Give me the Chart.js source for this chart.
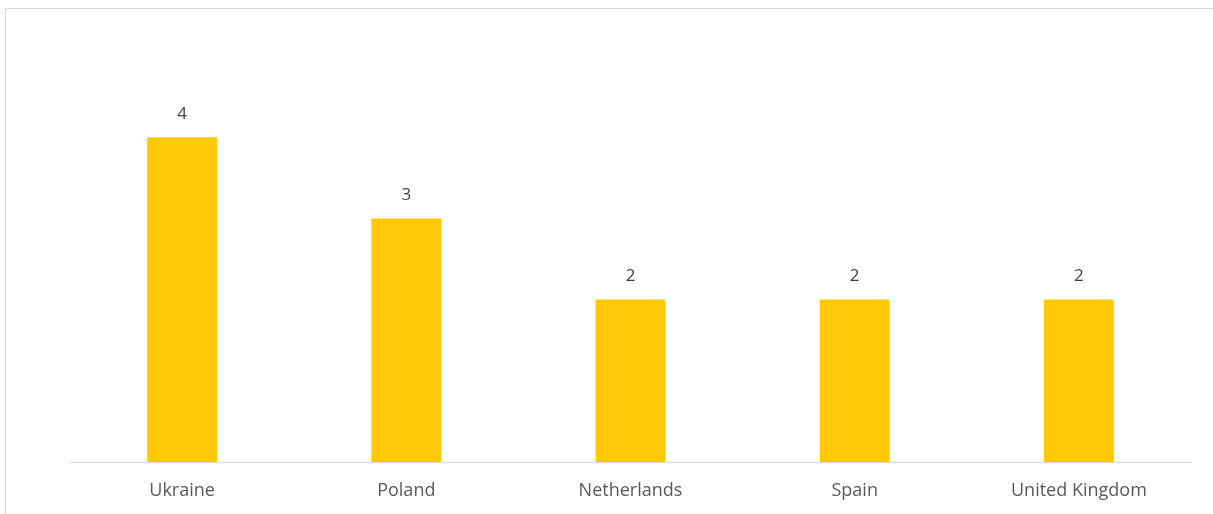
<!DOCTYPE html>
<html>
<head>
<meta charset="utf-8">
<script src="https://cdn.jsdelivr.net/npm/chart.js@4.4.1/dist/chart.umd.min.js"></script>
<style>
html,body{margin:0;padding:0;background:#fff;overflow:hidden;}
#frame{position:absolute;left:5px;top:8px;width:1230px;height:530px;border:1px solid #d9d9d9;box-sizing:border-box;}
#wrap{position:absolute;left:0;top:0;width:1213px;height:514px;}
</style>
</head>
<body>
<div id="frame"></div>
<div id="wrap"><canvas id="c" width="1213" height="514"></canvas></div>
<script>
const categories = ["Ukraine", "Poland", "Netherlands", "Spain", "United Kingdom"];
const values = [4, 3, 2, 2, 2];

const FONT = "'Open Sans', 'Liberation Sans', sans-serif";

const labelPlugin = {
  id: 'valueLabels',
  afterDatasetsDraw(chart) {
    const ctx = chart.ctx;
    const meta = chart.getDatasetMeta(0);
    ctx.save();
    ctx.font = "17px " + FONT;
    ctx.fillStyle = "#404040";
    ctx.textAlign = "center";
    ctx.textBaseline = "middle";
    meta.data.forEach((bar, i) => {
      ctx.fillText(String(values[i]), bar.x, bar.y - 23);
    });
    ctx.restore();
  }
};

new Chart(document.getElementById('c'), {
  type: 'bar',
  data: {
    labels: categories,
    datasets: [{
      data: values,
      backgroundColor: '#FFC907',
      categoryPercentage: 1,
      barPercentage: 0.312
    }]
  },
  options: {
    responsive: false,
    animation: false,
    devicePixelRatio: 1,
    layout: { padding: { left: 70, right: 22, top: 56, bottom: 0 } },
    plugins: { legend: { display: false }, tooltip: { enabled: false } },
    scales: {
      y: { display: false, min: 0, max: 5 },
      x: {
        grid: { display: false, drawTicks: false },
        border: { display: true, color: '#d9d9d9', width: 1 },
        ticks: { color: '#595959', font: { size: 18, family: FONT }, padding: 18, maxRotation: 0 },
        afterFit(scale) { scale.height = 52; }
      }
    }
  },
  plugins: [labelPlugin]
});
</script>
</body>
</html>
